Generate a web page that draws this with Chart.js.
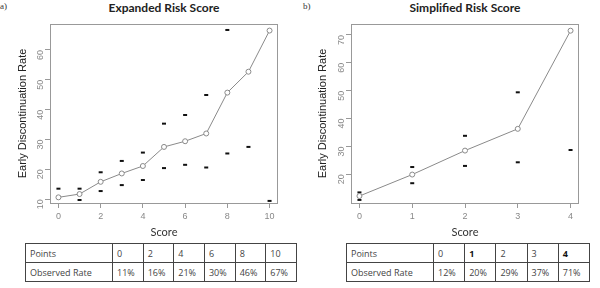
<!DOCTYPE html>
<html>
<head>
<meta charset="utf-8">
<script src="https://cdn.jsdelivr.net/npm/chart.js@4"></script>
<style>
  body { margin: 0; background: #fff; width: 600px; height: 288px; position: relative; overflow: hidden; }
  .cv { position: absolute; top: 0; }
  .ttl { position: absolute; top: 0; font: bold 12px Lato, sans-serif; color: #222; text-align: center; width: 240px; }
  .lab { position: absolute; top: 1px; font: 9px "Liberation Serif", serif; color: #333; }
  .score { position: absolute; top: 225px; font: 11px Lato, sans-serif; color: #333; text-align: center; width: 100px; }
  table { position: absolute; border-collapse: collapse; font: 9px "Open Sans", sans-serif; color: #444; }
  td { border: 1px solid #444; height: 18px; padding: 0 0 0 4px; }
</style>
</head>
<body>
<div class="lab" style="left:0">a)</div>
<div class="lab" style="left:303px">b)</div>
<div class="ttl" style="left:44px">Expanded Risk Score</div>
<div class="ttl" style="left:345px">Simplified Risk Score</div>
<div class="cv" style="left:0"><canvas id="chartA" width="300" height="240"></canvas></div>
<div class="cv" style="left:300px"><canvas id="chartB" width="300" height="240"></canvas></div>
<div class="score" style="left:114px">Score</div>
<div class="score" style="left:415px">Score</div>
<table id="tabA" style="left:25px; top:243px; width:272px"></table>
<table id="tabB" style="left:346px; top:243px; width:244px"></table>
<script>
// panel a - expanded score
const scoresA = [0, 1, 2, 3, 4, 5, 6, 7, 8, 9, 10]
const rateA = [10.6, 11.7, 15.8, 18.6, 21.1, 27.5, 29.4, 32.0, 45.7, 52.7, 66.5]
const upperA = [13.5, 13.5, 19.0, 22.8, 25.6, 35.3, 38.2, 44.9, 66.7, null, null]
const lowerA = [null, 9.7, 12.7, 14.7, 16.4, 20.4, 21.5, 20.6, 25.3, 27.5, 9.4]
const xTicksA = [0, 2, 4, 6, 8, 10]
const yTicksA = [10, 20, 30, 40, 50, 60]

// panel b - simplified score
const scoresB = [0, 1, 2, 3, 4]
const rateB = [12.2, 19.9, 28.5, 36.3, 71.5]
const upperB = [13.5, 22.6, 33.8, 49.4, null]
const lowerB = [10.8, 16.8, 23.0, 24.3, 28.7]
const xTicksB = [0, 1, 2, 3, 4]
const yTicksB = [20, 30, 40, 50, 60, 70]

// tables under the plots
const tablePointsA = ['0', '2', '4', '6', '8', '10']
const tableRateA = ['11%', '16%', '21%', '30%', '46%', '67%']
const tablePointsB = ['0', '1', '2', '3', '4']
const tableRateB = ['12%', '20%', '29%', '37%', '71%']
const boldB = ['1', '4']

const gray = '#8a8a8a'

const pts = (xs, ys) => xs.map((x, i) => ({ x: x, y: ys[i] }))

// R style box round the plot area
const boxPlugin = {
  id: 'box',
  afterDraw(chart) {
    const a = chart.chartArea, ctx = chart.ctx
    ctx.save()
    ctx.strokeStyle = '#999'
    ctx.lineWidth = 1
    ctx.strokeRect(a.left + 0.5, a.top + 0.5, a.right - a.left - 1, a.bottom - a.top)
    ctx.restore()
  }
}

const dashSet = (xs, ys) => ({
  data: pts(xs, ys),
  showLine: false,
  pointStyle: 'line',
  pointRadius: 2,
  pointBorderColor: '#111',
  pointBorderWidth: 2,
})

const makeChart = (id, xs, rate, upper, lower, xr, yr, xTicks, yTicks, leftW, rightPad) => {
  let ctx = document.getElementById(id).getContext('2d')
  return new Chart(ctx, {
    type: 'scatter',
    data: {
      datasets: [
        {
          data: pts(xs, rate),
          showLine: true,
          borderColor: gray,
          borderWidth: 1,
          pointRadius: 2.5,
          pointBackgroundColor: '#fff',
          pointBorderColor: gray,
          pointBorderWidth: 1,
        },
        dashSet(xs, upper),
        dashSet(xs, lower),
      ],
    },
    options: {
      responsive: false,
      animation: false,
      layout: { padding: { top: 24, right: rightPad, left: 0, bottom: 0 } },
      plugins: { legend: { display: false }, tooltip: { enabled: false } },
      scales: {
        x: {
          type: 'linear',
          min: xr[0],
          max: xr[1],
          border: { display: false },
          grid: { drawOnChartArea: false, drawTicks: true, tickLength: 5, color: '#999' },
          ticks: { color: '#888', font: { size: 9, family: 'Liberation Sans' }, padding: 3, maxRotation: 0 },
          afterBuildTicks: (s) => { s.ticks = xTicks.map(v => ({ value: v })) },
          afterFit: (s) => { s.height = 37 },
        },
        y: {
          min: yr[0],
          max: yr[1],
          border: { display: false },
          grid: { drawOnChartArea: false, drawTicks: true, tickLength: 5, color: '#999' },
          ticks: { color: '#888', font: { size: 9, family: 'Liberation Sans' }, minRotation: 90, maxRotation: 90, padding: 4 },
          afterBuildTicks: (s) => { s.ticks = yTicks.map(v => ({ value: v })) },
          title: { display: true, text: 'Early Discontinuation Rate', color: '#222', font: { size: 11, family: 'Liberation Sans' }, padding: { top: 16, bottom: 0 } },
          afterFit: (s) => { s.width = leftW },
        },
      },
    },
    plugins: [boxPlugin],
  })
}

makeChart('chartA', scoresA, rateA, upperA, lowerA, [-0.4, 10.4], [8.7, 68.7], xTicksA, yTicksA, 50, 22)
makeChart('chartB', scoresB, rateB, upperB, lowerB, [-0.16, 4.16], [9.7, 73.9], xTicksB, yTicksB, 51, 21)

const fillTable = (id, points, rates, bold) => {
  let t = document.getElementById(id)
  let r1 = '<tr><td style="width:82px">Points</td>' + points.map(p => '<td' + (bold.includes(p) ? ' style="font-weight:bold;color:#111"' : '') + '>' + p + '</td>').join('') + '</tr>'
  let r2 = '<tr><td>Observed Rate</td>' + rates.map(r => '<td>' + r + '</td>').join('') + '</tr>'
  t.innerHTML = r1 + r2
}
fillTable('tabA', tablePointsA, tableRateA, [])
fillTable('tabB', tablePointsB, tableRateB, boldB)
</script>
</body>
</html>
